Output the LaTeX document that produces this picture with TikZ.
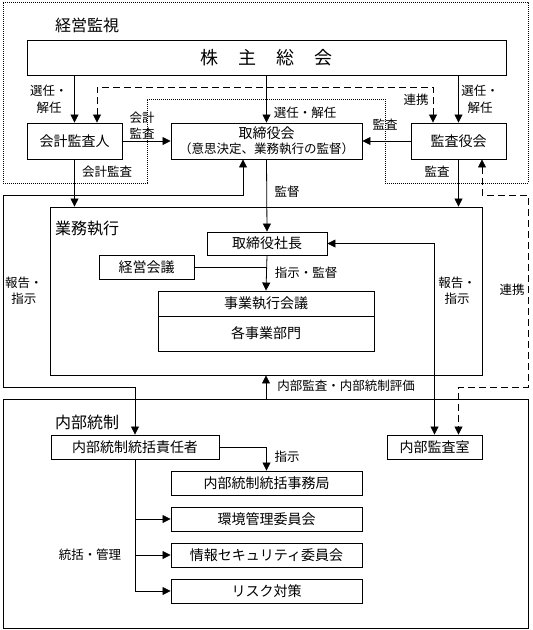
\documentclass[tikz,border=0pt]{standalone}
\usepackage{fontspec}
\setmainfont{Noto Sans CJK JP}
\usetikzlibrary{arrows.meta}

\newcommand{\boxfont}{\fontsize{14pt}{17pt}\selectfont}
\newcommand{\notefont}{\fontsize{12.5pt}{16.5pt}\selectfont}
\newcommand{\headfont}{\fontsize{16pt}{19pt}\selectfont}

\tikzstyle{unit}    = [rectangle, draw, line width=0.9pt, inner sep=0pt
                      , minimum height=24pt, text centered, font=\boxfont]
\tikzstyle{group}   = [rectangle, draw, line width=0.9pt, inner sep=0pt]
\tikzstyle{note}    = [inner sep=0pt, align=center, font=\notefont]
\tikzstyle{heading} = [inner sep=0pt, anchor=west, font=\headfont]
\tikzstyle{flow}    = [line width=0.8pt, -{Triangle[length=8pt,width=8pt]}]
\tikzstyle{twoway}  = [line width=0.8pt
                      , {Triangle[length=8pt,width=8pt]}-{Triangle[length=8pt,width=8pt]}]
\tikzstyle{link}    = [twoway, dash pattern=on 7pt off 4pt]

\begin{document}
\begin{tikzpicture}[x=1pt, y=-1pt]
\useasboundingbox (0,0) rectangle (533,630);

%% Management supervision area
\draw [line width=0.8pt, dash pattern=on 1pt off 1pt]
  (3,2) -- (528,2) -- (528,183) -- (385,183) -- (385,99)
  -- (147,99) -- (147,183) -- (3,183) -- cycle;
\node [heading] (Supervision-Head) at (55,25) {経営監視};

\node [unit, minimum width=479pt, minimum height=35pt, font=\fontsize{18pt}{20pt}\selectfont]
  (Shareholders-Box) at (266.5,57.5) {株\hspace{20pt}主\hspace{20pt}総\hspace{20pt}会};
\node [unit, minimum width=95pt, minimum height=36pt] (Auditor-Box) at (74.5,141) {会計監査人};
\node [unit, minimum width=191pt, minimum height=36pt, align=center] (Board-Box) at (266.5,141)
  {取締役会\\[-2pt]{\fontsize{12.5pt}{14pt}\selectfont （意思決定、業務執行の監督）}};
\node [unit, minimum width=95pt, minimum height=36pt] (Kansayaku-Box) at (458.5,141) {監査役会};

%% Business execution area
\node [group, minimum width=432pt, minimum height=168pt] (Execution-Group) at (266,291) {};
\node [heading] (Execution-Head) at (55,229) {業務執行};
\node [unit, minimum width=120pt, minimum height=23pt] (President-Box) at (267,243.5) {取締役社長};
\node [unit, minimum width=95pt] (Council-Box) at (146.5,267) {経営会議};
\node [unit, minimum width=216pt, minimum height=25pt] (Meeting-Box) at (266,303.5) {事業執行会議};
\node [unit, minimum width=216pt, minimum height=35pt] (Divisions-Box) at (266,333.5) {各事業部門};

%% Internal control area
\node [group, minimum width=525pt, minimum height=229pt] (Control-Group) at (265.5,513.5) {};
\node [heading] (Control-Head) at (55,422) {内部統制};
\node [unit, minimum width=168pt] (Manager-Box) at (135,447) {内部統制統括責任者};
\node [unit, minimum width=95pt] (InternalAudit-Box) at (434.5,447) {内部監査室};
\node [unit, minimum width=191pt] (Office-Box) at (266.5,483) {内部統制統括事務局};
\node [unit, minimum width=191pt] (Environment-Box) at (266.5,519) {環境管理委員会};
\node [unit, minimum width=191pt] (Security-Box) at (266.5,555) {情報セキュリティ委員会};
\node [unit, minimum width=191pt] (Risk-Box) at (266.5,591) {リスク対策};

%% Upper connectors
\draw [flow] (Auditor-Box.north |- Shareholders-Box.south) -- (Auditor-Box.north);
\draw [flow] (Shareholders-Box.south -| Board-Box.north) -- (Board-Box.north);
\draw [flow] (Kansayaku-Box.north |- Shareholders-Box.south) -- (Kansayaku-Box.north);
\draw [link] ([xshift=-25.5pt]Kansayaku-Box.north) |- (97,87) -- ([xshift=22.5pt]Auditor-Box.north);
\draw [flow] (Auditor-Box.east) -- (Board-Box.west);
\draw [flow] (Kansayaku-Box.west) -- (Board-Box.east);
\draw [flow] (Auditor-Box.south) -- (Auditor-Box.south |- Execution-Group.north);
\draw [flow] (Kansayaku-Box.south) -- (Kansayaku-Box.south |- Execution-Group.north);
\draw [flow] (Board-Box.south) -- (President-Box.north);
\draw [twoway] ([xshift=-23.5pt]Board-Box.south) |- (3,195) -- (3,387) -| (Manager-Box.north);
\draw [link] ([xshift=23.5pt]Kansayaku-Box.south) |- (528,195) -- (528,387)
  -| ([xshift=24pt]InternalAudit-Box.north);

%% Execution connectors
\draw [line width=0.8pt] (Council-Box.east) -- (Council-Box.east -| President-Box.south);
\draw [flow] (President-Box.south) -- (Meeting-Box.north);
\draw [twoway] (President-Box.east) -| (InternalAudit-Box.north);
\draw [flow] (Execution-Group.south |- Control-Group.north) -- (Execution-Group.south);

%% Internal control connectors
\draw [flow] (Manager-Box.east) -| (Office-Box.north);
\draw [line width=0.8pt] (Manager-Box.south) -- (Manager-Box.south |- Risk-Box.west);
\draw [flow] (Manager-Box.south |- Environment-Box.west) -- (Environment-Box.west);
\draw [flow] (Manager-Box.south |- Security-Box.west) -- (Security-Box.west);
\draw [flow] (Manager-Box.south |- Risk-Box.west) -- (Risk-Box.west);

%% Labels
\node [note] (Elect-Left) at (49,99.5) {選任・\\解任};
\node [note] (Elect-Mid) at (305,113) {選任・解任};
\node [note] (Elect-Right) at (480,99.5) {選任・\\解任};
\node [note] (Link-Upper) at (416,100) {連携};
\node [note] (Audit-Acct) at (142,125.5) {会計\\監査};
\node [note] (Audit-Board) at (385,125) {監査};
\node [note] (Audit-Acct-Low) at (107,172) {会計監査};
\node [note] (Audit-Kansa-Low) at (437,172) {監査};
\node [note] (Supervise) at (287,192) {監督};
\node [note] (Report-Left) at (24,290.5) {報告・\\指示};
\node [note] (Direct-Supervise) at (306,273) {指示・監督};
\node [note] (Report-Right) at (457,290.5) {報告・\\指示};
\node [note] (Link-Right) at (512,290) {連携};
\node [note] (Evaluation) at (346,386) {内部監査・内部統制評価};
\node [note] (Direct) at (287,457) {指示};
\node [note] (Manage) at (90,555) {統括・管理};

\end{tikzpicture}
\end{document}
